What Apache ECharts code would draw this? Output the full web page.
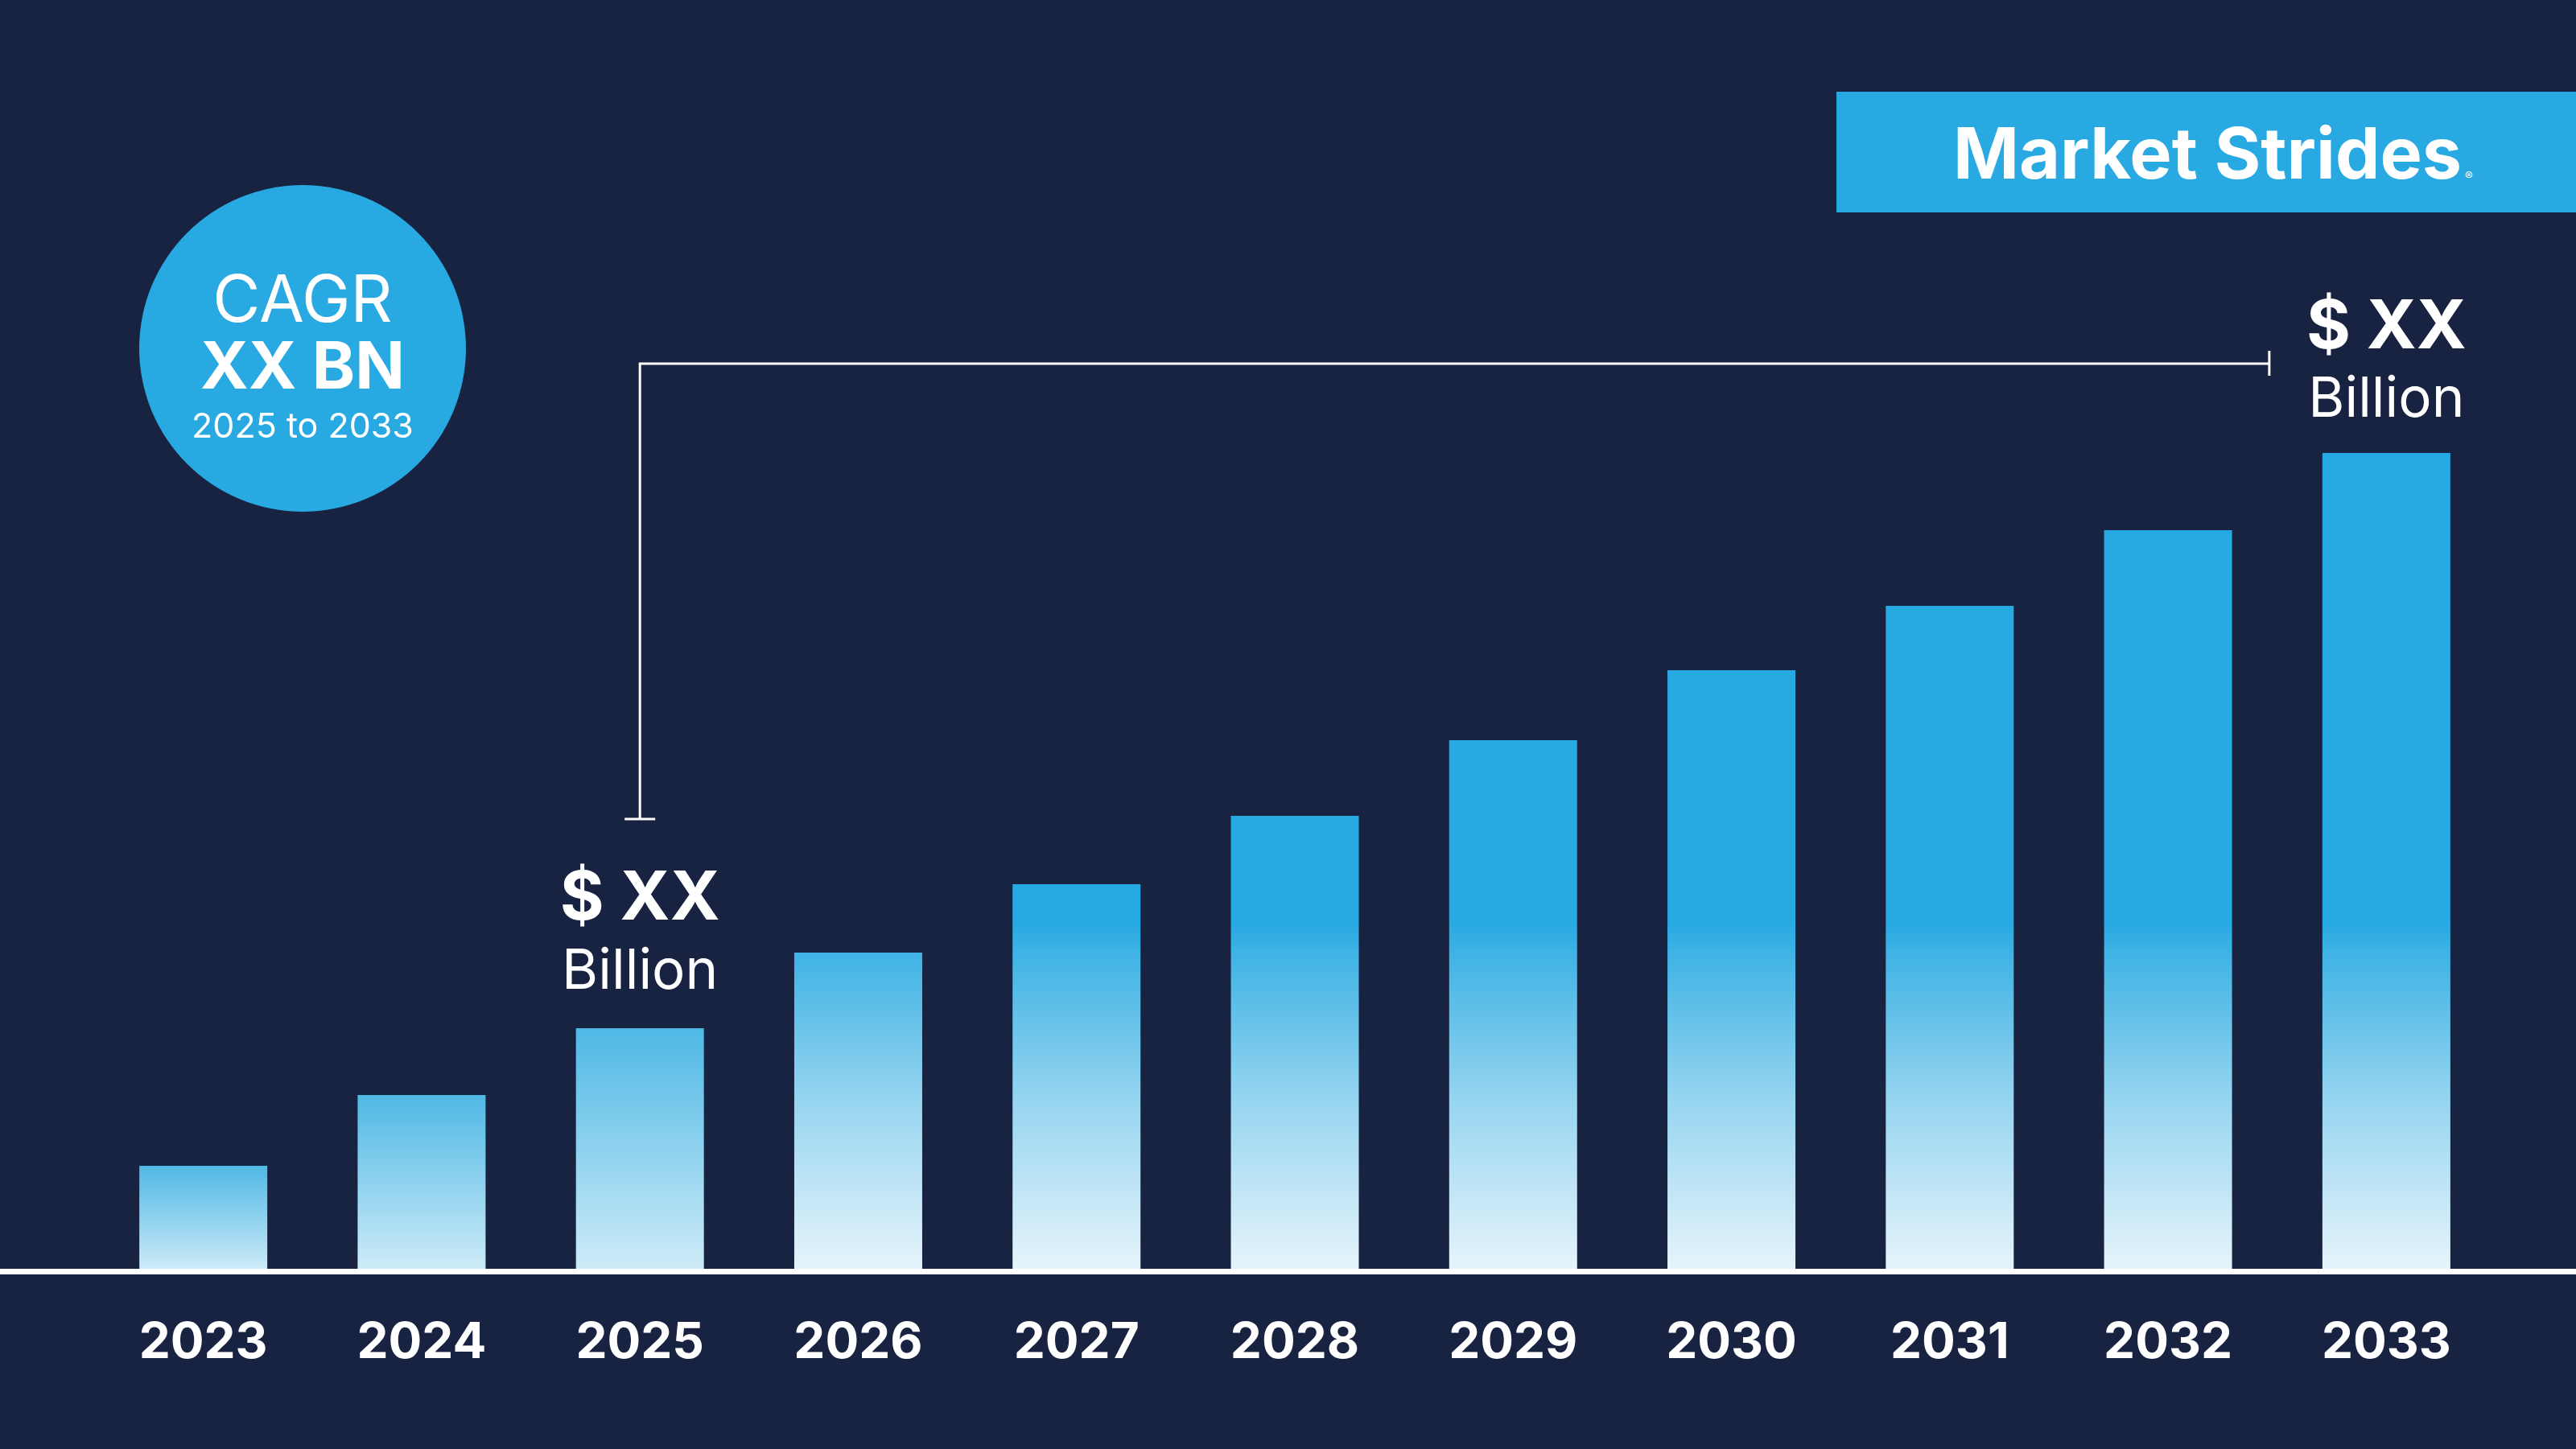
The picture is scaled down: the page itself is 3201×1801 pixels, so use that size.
<!DOCTYPE html>
<html>
<head>
<meta charset="utf-8">
<script src="https://cdn.jsdelivr.net/npm/echarts@6/dist/echarts.min.js"></script>
<style>
html,body{margin:0;padding:0;background:#182241;}
#c{width:3201px;height:1801px;}
</style>
</head>
<body>
<div id="c"></div>
<script>
// ---- data ----
const years = ['2023','2024','2025','2026','2027','2028','2029','2030','2031','2032','2033'];
const marketValues = [12.8, 21.6, 29.9, 39.3, 47.8, 56.3, 65.7, 74.4, 82.4, 91.8, 101.4];
const yMax = 110;
const startYear = '2025';
const endYear = '2033';
const valueLabel = ['$ XX', 'Billion'];
const cagrLines = ['CAGR', 'XX BN', '2025 to 2033'];
const brandName = 'Market Strides';

// ---- styles ----
const BG = '#182241';
const BLUE = '#29a9e1';
const FONT = 'Inter, "Noto Sans", sans-serif';
const AXIS_Y = 1577;
const TDY = 5; // vertical text nudge (canvas middle vs cap middle)

function barColor(params) {
  const v = params.value;
  if (v >= 35) {
    return new echarts.graphic.LinearGradient(0, 1147, 0, AXIS_Y, [
      {offset: 0, color: '#27a9e1'},
      {offset: 0.08, color: '#3db2e4'},
      {offset: 0.5, color: '#94d4f0'},
      {offset: 1, color: '#e6f4fb'}
    ], true);
  }
  return new echarts.graphic.LinearGradient(0, 0, 0, 1, [
    {offset: 0, color: '#4fb8e5'},
    {offset: 1, color: '#cdebf8'}
  ]);
}

const chart = echarts.init(document.getElementById('c'), null, {renderer: 'canvas'});

const option = {
  backgroundColor: BG,
  animation: false,
  grid: {left: 117, right: 100, top: 477, bottom: 1801 - AXIS_Y},
  xAxis: {
    type: 'category',
    data: years,
    axisLine: {show: false},
    axisTick: {show: false},
    axisLabel: {
      color: '#ffffff',
      fontFamily: FONT,
      fontWeight: 'bold',
      fontSize: 62,
      margin: 87 + TDY,
      verticalAlign: 'middle'
    }
  },
  yAxis: {
    type: 'value',
    min: 0,
    max: yMax,
    show: false,
    splitLine: {show: false}
  },
  series: [{
    type: 'bar',
    data: marketValues,
    barWidth: 159,
    itemStyle: {color: barColor}
  }]
};
chart.setOption(option);

// ---- annotations positioned from the chart's own scales ----
const iStart = years.indexOf(startYear);
const iEnd = years.indexOf(endYear);
const xs = chart.convertToPixel({xAxisIndex: 0}, iStart);
const xe = chart.convertToPixel({xAxisIndex: 0}, iEnd);
const ys = chart.convertToPixel({yAxisIndex: 0}, marketValues[iStart]);
const ye = chart.convertToPixel({yAxisIndex: 0}, marketValues[iEnd]);

const lineY = ye - 111;
const tickY = ys - 260;
const endX = xe - 145.5;
const lineStyle = {stroke: '#ffffff', lineWidth: 3, fill: null};

function txt(x, y, text, size, weight) {
  return {
    type: 'text', x: x, y: y + TDY, silent: true,
    style: {
      text: text, fill: '#ffffff', font: weight + ' ' + size + 'px ' + FONT,
      align: 'center', verticalAlign: 'middle'
    }
  };
}

chart.setOption({
  graphic: [
    {type: 'rect', shape: {x: 0, y: AXIS_Y, width: 3201, height: 7}, style: {fill: '#ffffff'}, silent: true},
    {type: 'rect', shape: {x: 2282, y: 114, width: 919, height: 150}, style: {fill: BLUE}, silent: true},
    txt(2743, 191, brandName, 88, 'bold'),
    txt(3068, 214, '®', 15, 'normal'),
    {type: 'circle', shape: {cx: 376, cy: 433, r: 203}, style: {fill: BLUE}, silent: true},
    txt(376, 371, cagrLines[0], 81, 'normal'),
    txt(376, 454, cagrLines[1], 81, 'bold'),
    txt(376, 526, cagrLines[2], 43, 'normal'),
    {type: 'polyline', shape: {points: [[xs, tickY], [xs, lineY], [endX, lineY]]}, style: lineStyle, silent: true},
    {type: 'line', shape: {x1: xs - 19, y1: tickY, x2: xs + 19, y2: tickY}, style: lineStyle, silent: true},
    {type: 'line', shape: {x1: endX, y1: lineY - 16, x2: endX, y2: lineY + 15}, style: lineStyle, silent: true},
    txt(xs, ys - 165, valueLabel[0], 84, 'bold'),
    txt(xs, ys - 75, valueLabel[1], 69, 'normal'),
    txt(xe, ye - 160, valueLabel[0], 84, 'bold'),
    txt(xe, ye - 71, valueLabel[1], 69, 'normal')
  ]
});
</script>
</body>
</html>
